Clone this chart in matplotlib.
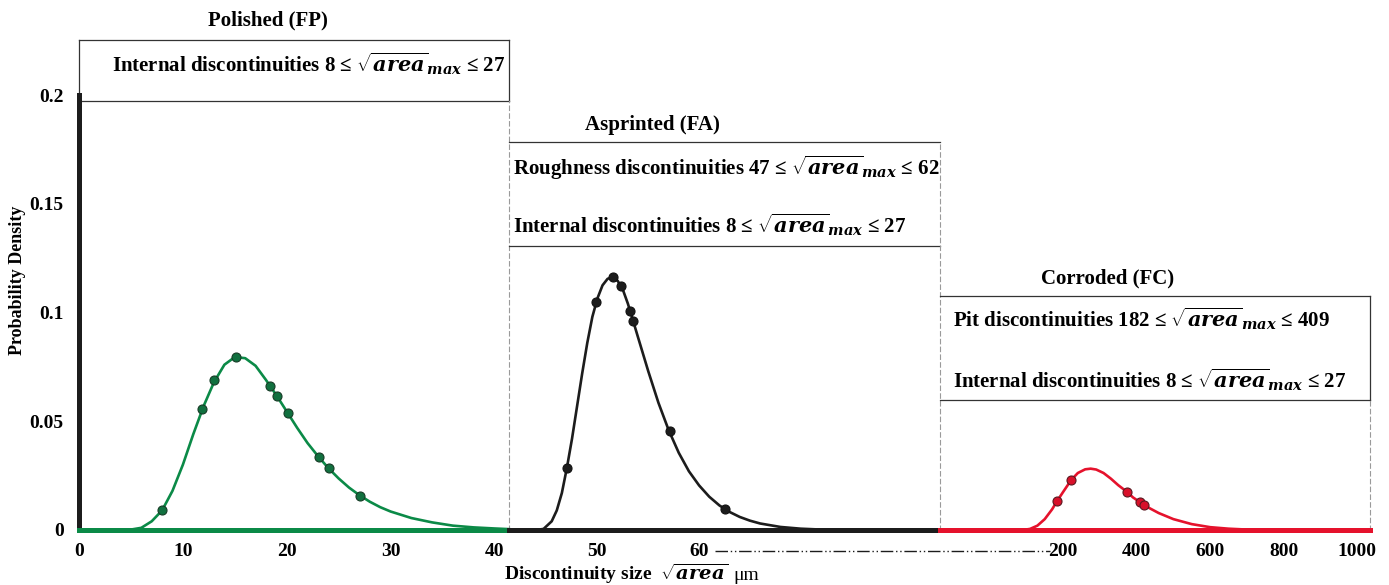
import matplotlib.pyplot as plt
from matplotlib.lines import Line2D

# Polished (FP): fitted density curve and measured internal discontinuities
fp_x = [0, 4, 5, 6, 7, 8, 9, 10, 11, 12, 13, 14, 15, 16, 17, 18, 19, 20, 21, 22,
        23, 24, 25, 26, 27, 28, 29, 30, 32, 34, 36, 38, 40, 41.4]
fp_pdf = [0, 0, 0.0002, 0.001, 0.004, 0.009, 0.018, 0.030, 0.044, 0.057, 0.068,
          0.076, 0.0795, 0.079, 0.0755, 0.069, 0.062, 0.0545, 0.047, 0.040,
          0.034, 0.0285, 0.0237, 0.0195, 0.016, 0.013, 0.0105, 0.0085, 0.0055,
          0.0035, 0.002, 0.0012, 0.0007, 0.0004]
fp_pts_x = [8, 11.8, 13, 15.1, 18.4, 19.1, 20.1, 23.1, 24.1, 27.1]
fp_pts_y = [0.009, 0.0556, 0.069, 0.0794, 0.066, 0.0614, 0.054, 0.0335, 0.0284, 0.0158]

# As-printed (FA)
fa_x = [41.3, 44, 44.7, 45.5, 46, 46.5, 47, 47.5, 48, 48.5, 49, 49.5, 50, 50.5,
        51, 51.5, 52, 52.5, 53, 53.5, 54, 55, 56, 57, 58, 59, 60, 61, 62, 63,
        64, 65, 66, 68, 70, 72, 75, 83.7]
fa_pdf = [0, 0, 0.0005, 0.004, 0.009, 0.017, 0.0287, 0.042, 0.057, 0.072, 0.086,
          0.098, 0.1065, 0.1125, 0.1155, 0.1162, 0.1145, 0.1105, 0.104, 0.0963,
          0.0885, 0.073, 0.0585, 0.046, 0.0355, 0.027, 0.0205, 0.0153, 0.0113,
          0.0083, 0.006, 0.0043, 0.003, 0.0014, 0.0006, 0.0002, 0, 0]
fa_pts_x = [47, 49.9, 51.5, 52.3, 53.2, 53.5, 57.1, 62.5]
fa_pts_y = [0.0287, 0.1049, 0.1162, 0.1121, 0.1009, 0.0963, 0.0453, 0.0095]

# Corroded (FC)
fc_x = [-135, 90, 110, 130, 150, 170, 184, 200, 222, 240, 260, 275, 290, 310,
        330, 350, 374, 390, 409, 430, 460, 500, 550, 600, 650, 700, 800, 1035]
fc_pdf = [0, 0, 0.0005, 0.002, 0.005, 0.0095, 0.0134, 0.0175, 0.023, 0.0262,
          0.0279, 0.0282, 0.0278, 0.0262, 0.0236, 0.0206, 0.0175, 0.015, 0.0128,
          0.0105, 0.0078, 0.005, 0.0027, 0.0013, 0.0006, 0.0002, 0, 0]
fc_pts_x = [184, 222, 374, 409, 420]
fc_pts_y = [0.0134, 0.023, 0.0175, 0.0128, 0.0116]

fp_ticks = [0, 10, 20, 30, 40]
fa_ticks = [50, 60]
fc_ticks = [200, 400, 600, 800, 1000]
y_ticks = [0, 0.05, 0.1, 0.15, 0.2]
y_ticklabels = ['0', '0.05', '0.1', '0.15', '0.2']

plt.rcParams['font.family'] = 'Liberation Serif'
plt.rcParams['font.weight'] = 'bold'
plt.rcParams['mathtext.fontset'] = 'custom'
plt.rcParams['mathtext.it'] = 'DejaVu Serif:italic:bold'
plt.rcParams['mathtext.rm'] = 'DejaVu Serif:bold'
plt.rcParams['mathtext.bf'] = 'DejaVu Serif:bold'

W, H = 1389, 585
fig = plt.figure(figsize=(W / 100, H / 100), dpi=100, facecolor='w')

bottom = (H - 530) / H
height = 435 / H
ax1 = fig.add_axes([79 / W, bottom, 430 / W, height])
ax2 = fig.add_axes([509 / W, bottom, 431 / W, height])
ax3 = fig.add_axes([940 / W, bottom, 430 / W, height])

GREEN, GREEN_M = '#0b8a47', '#11703f'
BLACK = '#1c1c1c'
RED, RED_M = '#e5122c', '#d8102a'
BOX_C = '#333333'
DASH_C = '#9a9a9a'
FS = 15
TICK_FS = 14

panels = [
    (ax1, fp_x, fp_pdf, fp_pts_x, fp_pts_y, GREEN, GREEN_M, '#173d27', (0, 41.4), fp_ticks),
    (ax2, fa_x, fa_pdf, fa_pts_x, fa_pts_y, BLACK, BLACK, '#111111', (41.3, 83.7), fa_ticks),
    (ax3, fc_x, fc_pdf, fc_pts_x, fc_pts_y, RED, RED_M, '#5a1820', (-135, 1035), fc_ticks),
]

for ax, x, pdf, px, py, col, mcol, medge, xlim, ticks in panels:
    ax.plot(x, pdf, color=col, lw=1.9, clip_on=False, zorder=3)
    ax.plot(px, py, 'o', ms=6.5, mfc=mcol, mec=medge, mew=0.8, zorder=4, clip_on=False)
    ax.set_xlim(*xlim)
    ax.set_ylim(0, 0.2)
    ax.set_xticks(ticks)
    ax.set_facecolor('none')
    ax.tick_params(axis='x', length=0, pad=9, labelsize=TICK_FS)
    ax.spines['top'].set_visible(False)
    ax.spines['left'].set_visible(False)
    ax.spines['bottom'].set_color(col)
    ax.spines['bottom'].set_linewidth(3.6)
    ax.spines['right'].set_color(DASH_C)
    ax.spines['right'].set_linewidth(0.8)
    ax.spines['right'].set_linestyle((0, (4, 3)))
    ax.set_yticks([])

ax1.spines['left'].set_visible(True)
ax1.spines['left'].set_linewidth(3.6)
ax1.spines['left'].set_color(BLACK)
ax1.set_yticks(y_ticks)
ax1.set_yticklabels(y_ticklabels)
ax1.tick_params(axis='y', length=0, pad=11, labelsize=TICK_FS)

# dashed panel borders stop at the bottom of each annotation box
ax1.spines['right'].set_bounds(0, 0.1972)
ax2.spines['right'].set_bounds(0, 0.1784)
ax3.spines['right'].set_bounds(0, 0.0598)


def draw_box(ax, lo, hi, solid_sides):
    for y in (lo, hi):
        ax.axhline(y, color=BOX_C, lw=0.9, clip_on=False)
    for xs in solid_sides:
        ax.axvline(xs, ymin=lo / 0.2, ymax=hi / 0.2, color=BOX_C, lw=0.9, clip_on=False)


draw_box(ax1, 0.1972, 0.2253, [0, 41.4])
draw_box(ax2, 0.1306, 0.1784, [])
draw_box(ax3, 0.0598, 0.1076, [1035])

rng = r'$\sqrt{area}_{max}$'
ax1.text(0.077, 0.2106, 'Internal discontinuities 8 ≤ ' + rng + ' ≤ 27',
         transform=ax1.get_yaxis_transform(), fontsize=FS, va='baseline')
ax2.text(0.01, 0.1632, 'Roughness discontinuities 47 ≤ ' + rng + ' ≤ 62',
         transform=ax2.get_yaxis_transform(), fontsize=FS, va='baseline')
ax2.text(0.01, 0.1366, 'Internal discontinuities 8 ≤ ' + rng + ' ≤ 27',
         transform=ax2.get_yaxis_transform(), fontsize=FS, va='baseline')
ax3.text(0.03, 0.0933, 'Pit discontinuities 182 ≤ ' + rng + ' ≤ 409',
         transform=ax3.get_yaxis_transform(), fontsize=FS, va='baseline')
ax3.text(0.03, 0.0653, 'Internal discontinuities 8 ≤ ' + rng + ' ≤ 27',
         transform=ax3.get_yaxis_transform(), fontsize=FS, va='baseline')

fig.text(268 / W, 1 - 20 / H, 'Polished (FP)', fontsize=FS, ha='center', va='center')
fig.text(652 / W, 1 - 125 / H, 'Asprinted (FA)', fontsize=FS, ha='center', va='center')
fig.text(1108 / W, 1 - 278 / H, 'Corroded (FC)', fontsize=FS, ha='center', va='center')

fig.text(18 / W, 1 - 280 / H, 'Probability Density', fontsize=13, rotation=90,
         ha='center', va='center')
fig.text(504 / W, 1 - 574 / H, r'Discontinuity size  $\sqrt{area}$', fontsize=14,
         ha='left', va='center')
fig.text(733 / W, 1 - 576 / H, 'μm', fontsize=14, fontweight='normal',
         ha='left', va='center')

# axis break marker between the 60 and 200 tick labels
inv = fig.transFigure.inverted()
x_start = inv.transform(ax2.transData.transform((61.6, 0)))[0]
x_end = inv.transform(ax3.transData.transform((163, 0)))[0]
y_break = 1 - 551 / H
fig.add_artist(Line2D([x_start, x_end], [y_break, y_break], color=BLACK, lw=1.0,
                      linestyle=(0, (9, 2, 1, 2, 1, 2))))

fig.savefig('out.png', dpi=100, facecolor='w')
